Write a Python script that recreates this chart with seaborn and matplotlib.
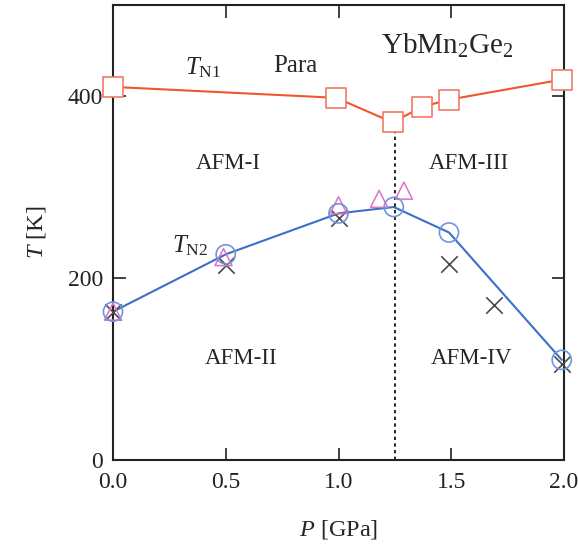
"""Pressure-temperature phase diagram of YbMn2Ge2."""

import numpy as np
import pandas as pd
import matplotlib
matplotlib.use("Agg")
import matplotlib.pyplot as plt
import seaborn as sns

# T_N1 (squares)
p_n1 = [0.0, 0.99, 1.24, 1.37, 1.49, 1.99]
t_n1 = [410, 398, 371, 388, 396, 418]

# T_N2 (circles)
p_n2 = [0.0, 0.5, 1.0, 1.245, 1.49, 1.99]
t_n2 = [163, 226, 271, 278, 250, 110]

# triangles
p_tri = [0.0, 0.49, 1.0, 1.18, 1.29]
t_tri = [163, 223, 280, 287, 296]

# crosses
p_x = [0.0, 0.5, 1.0, 1.49, 1.69, 1.99]
t_x = [163, 214, 266, 215, 170, 106]

p_crit = 1.25
t_crit_top = 363

sns.set_theme(style="ticks")
plt.rcParams['font.family'] = ['Liberation Serif', 'DejaVu Serif']
plt.rcParams['mathtext.fontset'] = 'custom'
plt.rcParams['mathtext.rm'] = 'Liberation Serif'
plt.rcParams['mathtext.it'] = 'Liberation Serif:italic'

fig = plt.figure(figsize=(5.78, 5.51), dpi=100)
ax = fig.add_axes([0.1955, 0.1652, 0.7803, 0.8257])

df1 = pd.DataFrame({"P": p_n1, "T": t_n1})
df2 = pd.DataFrame({"P": p_n2, "T": t_n2})

sns.lineplot(data=df1, x="P", y="T", color="#f0552f", lw=1.5, ax=ax, sort=False)
sns.lineplot(data=df2, x="P", y="T", color="#3a6fcc", lw=1.5, ax=ax, sort=False)

ax.vlines(p_crit, 0, t_crit_top, colors="black", linestyles=(0, (2, 2)), lw=1.2)

sns.scatterplot(x=p_x, y=t_x, marker="x", s=140, color="#4a4a4a", linewidth=1.2,
                ax=ax, zorder=3, clip_on=False)
sns.scatterplot(x=p_tri, y=t_tri, marker="^", s=150, facecolor="none",
                edgecolor="#e070c8", linewidth=1.1, ax=ax, zorder=4, clip_on=False)
sns.scatterplot(x=p_n2, y=t_n2, marker="o", s=190, facecolor="none",
                edgecolor="#6f95dc", linewidth=1.2, ax=ax, zorder=5, clip_on=False)
sns.scatterplot(x=p_n1, y=t_n1, marker="s", s=200, facecolor="white",
                edgecolor="#f07a66", linewidth=1.2, ax=ax, zorder=5, clip_on=False)

ax.set_xlim(0, 2.0)
ax.set_ylim(0, 500)
ax.set_xticks([0.0, 0.5, 1.0, 1.5, 2.0])
ax.set_xticklabels(["0.0", "0.5", "1.0", "1.5", "2.0"])
ax.set_yticks([0, 200, 400])
ax.tick_params(direction="in", length=9, width=1.2, top=True, right=True,
               labelsize=17, colors="#222222")
ax.tick_params(axis="x", pad=9)
ax.tick_params(axis="y", pad=7)
for sp in ax.spines.values():
    sp.set_linewidth(1.5)
    sp.set_color("#222222")

ax.set_xlabel("$P$ [GPa]", fontsize=17.5, labelpad=18)
ax.set_ylabel("$T$ [K]", fontsize=17.5, labelpad=14)

ax.text(0.40, 431, r"$T_{\mathrm{N1}}$", fontsize=18, ha="center", va="center")
ax.text(0.81, 433, "Para", fontsize=18, ha="center", va="center")
ax.text(1.48, 455, r"YbMn$_2$Ge$_2$", fontsize=21, ha="center", va="center")
ax.text(0.51, 326, "AFM-I", fontsize=16.5, ha="center", va="center")
ax.text(1.58, 326, "AFM-III", fontsize=16.5, ha="center", va="center")
ax.text(0.34, 236, r"$T_{\mathrm{N2}}$", fontsize=18, ha="center", va="center")
ax.text(0.57, 112, "AFM-II", fontsize=16.5, ha="center", va="center")
ax.text(1.59, 112, "AFM-IV", fontsize=16.5, ha="center", va="center")

fig.savefig("out.png", dpi=100)
